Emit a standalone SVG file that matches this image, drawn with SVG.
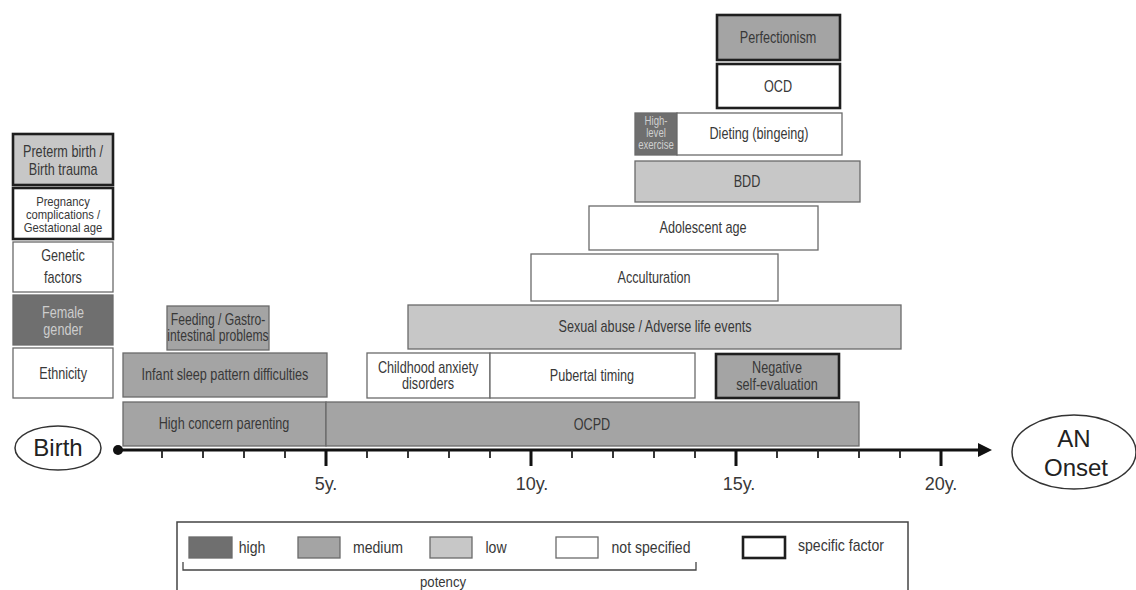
<svg xmlns="http://www.w3.org/2000/svg" width="1136" height="590" viewBox="0 0 1136 590">
  <style>
    text { font-family: "Liberation Sans", Arial, sans-serif; fill: #383838; text-anchor: middle; }
    .lbl { font-size: 16px; transform-box: fill-box; transform-origin: center; transform: scaleX(0.79); }
    .sm { font-size: 12.5px; transform-box: fill-box; transform-origin: center; transform: scaleX(0.9); }
    .xs { font-size: 12px; transform-box: fill-box; transform-origin: center; transform: scaleX(0.8); fill: #cfcfcf; }
    .inv { fill: #cdcdcd; }
    .yr { font-size: 18px; }
    .big { font-size: 24px; fill: #222; }
    .leg { font-size: 16px; transform-box: fill-box; transform-origin: center; transform: scaleX(0.88); }
    .high { fill: #6f6f6f; }
    .med { fill: #a4a4a4; }
    .low { fill: #c7c7c7; }
    .ns { fill: #ffffff; }
    .box { stroke: #6a6a6a; stroke-width: 1.3; }
    .spec { stroke: #1e1e1e; stroke-width: 2.6; }
  </style>
  <defs>
    <marker id="arrow" markerWidth="14" markerHeight="14" refX="2" refY="7" orient="auto" markerUnits="userSpaceOnUse">
      <path d="M0,0 L14,7 L0,14 Z" fill="#111"/>
    </marker>
  </defs>

  <rect width="1136" height="590" fill="#ffffff"/>

  <!-- factors present from birth -->
  <g id="preterm">
    <rect class="low spec" x="13" y="134" width="100" height="51"/>
    <text class="lbl" x="63" y="157">Preterm birth /</text>
    <text class="lbl" x="63" y="175">Birth trauma</text>
  </g>
  <g id="pregnancy">
    <rect class="ns spec" x="13" y="188" width="100" height="51"/>
    <text class="sm" x="63" y="206">Pregnancy</text>
    <text class="sm" x="63" y="219">complications /</text>
    <text class="sm" x="63" y="232">Gestational age</text>
  </g>
  <g id="genetic">
    <rect class="ns box" x="13" y="242" width="100" height="50"/>
    <text class="lbl" x="63" y="261">Genetic</text>
    <text class="lbl" x="63" y="283">factors</text>
  </g>
  <g id="female">
    <rect class="high box" x="13" y="295" width="100" height="50"/>
    <text class="lbl inv" x="63" y="318">Female</text>
    <text class="lbl inv" x="63" y="335">gender</text>
  </g>
  <g id="ethnicity">
    <rect class="ns box" x="13" y="348" width="100" height="50"/>
    <text class="lbl" x="63" y="379">Ethnicity</text>
  </g>

  <!-- childhood factors -->
  <g id="feeding">
    <rect class="med box" x="167" y="306" width="102" height="44"/>
    <text class="lbl" x="218" y="325" style="transform:scaleX(0.76)">Feeding / Gastro-</text>
    <text class="lbl" x="218" y="341" style="transform:scaleX(0.76)">intestinal problems</text>
  </g>
  <g id="infant-sleep">
    <rect class="med box" x="123" y="353" width="204" height="44"/>
    <text class="lbl" x="225" y="380">Infant sleep pattern difficulties</text>
  </g>
  <g id="parenting">
    <rect class="med box" x="123" y="402" width="203" height="44"/>
    <text class="lbl" x="224" y="429">High concern parenting</text>
  </g>
  <g id="ocpd">
    <rect class="med box" x="326" y="402" width="533" height="44"/>
    <text class="lbl" x="592" y="430">OCPD</text>
  </g>
  <g id="anxiety">
    <rect class="ns box" x="367" y="353" width="123" height="45"/>
    <text class="lbl" x="428" y="373">Childhood anxiety</text>
    <text class="lbl" x="428" y="389">disorders</text>
  </g>
  <g id="pubertal">
    <rect class="ns box" x="490" y="353" width="205" height="45"/>
    <text class="lbl" x="592" y="381">Pubertal timing</text>
  </g>
  <g id="self-evaluation">
    <rect class="med spec" x="716" y="354" width="123" height="44"/>
    <text class="lbl" x="777" y="373">Negative</text>
    <text class="lbl" x="777" y="390">self-evaluation</text>
  </g>
  <g id="abuse">
    <rect class="low box" x="408" y="305" width="493" height="44"/>
    <text class="lbl" x="655" y="332">Sexual abuse / Adverse life events</text>
  </g>

  <!-- adolescent factors -->
  <g id="acculturation">
    <rect class="ns box" x="531" y="254" width="247" height="47"/>
    <text class="lbl" x="654" y="283">Acculturation</text>
  </g>
  <g id="adolescent">
    <rect class="ns box" x="589" y="206" width="229" height="44"/>
    <text class="lbl" x="703" y="233">Adolescent age</text>
  </g>
  <g id="bdd">
    <rect class="low box" x="635" y="161" width="225" height="41"/>
    <text class="lbl" x="747" y="187">BDD</text>
  </g>
  <g id="exercise">
    <rect class="high box" x="635" y="113" width="42" height="42"/>
    <text class="xs" x="656" y="125">High-</text>
    <text class="xs" x="656" y="137">level</text>
    <text class="xs" x="656" y="149">exercise</text>
  </g>
  <g id="dieting">
    <rect class="ns box" x="677" y="113" width="165" height="42"/>
    <text class="lbl" x="759" y="139">Dieting (bingeing)</text>
  </g>
  <g id="ocd">
    <rect class="ns spec" x="717" y="64" width="123" height="44"/>
    <text class="lbl" x="778" y="92">OCD</text>
  </g>
  <g id="perfectionism">
    <rect class="med spec" x="717" y="15" width="123" height="45"/>
    <text class="lbl" x="778" y="43">Perfectionism</text>
  </g>

  <!-- timeline -->
  <g id="connectors">
    <line x1="118" y1="450" x2="980" y2="450" stroke="#111" stroke-width="3" marker-end="url(#arrow)"/>
    <circle cx="118" cy="450" r="5" fill="#111"/>
    <path d="M162 450V458 M203 450V458 M244 450V458 M285 450V458 M367 450V458 M408 450V458 M449 450V458 M490 450V458 M572 450V458 M613 450V458 M654 450V458 M695 450V458 M777 450V458 M818 450V458 M859 450V458 M900 450V458" stroke="#222" stroke-width="1.8"/>
    <path d="M326 450V466 M531 450V466 M736 450V466 M941 450V466" stroke="#111" stroke-width="3"/>
  </g>
  <g id="years">
    <text class="yr" x="326" y="490">5y.</text>
    <text class="yr" x="532" y="490">10y.</text>
    <text class="yr" x="739" y="490">15y.</text>
    <text class="yr" x="941" y="490">20y.</text>
  </g>
  <g id="birth">
    <ellipse cx="58" cy="448" rx="43" ry="22" fill="#fff" stroke="#333" stroke-width="1.5"/>
    <text class="big" x="58" y="456">Birth</text>
  </g>
  <g id="onset">
    <ellipse cx="1074" cy="452" rx="62" ry="37" fill="#fff" stroke="#333" stroke-width="1.5"/>
    <text class="big" x="1074" y="447">AN</text>
    <text class="big" x="1076" y="476">Onset</text>
  </g>

  <!-- legend -->
  <g id="legend">
    <rect x="177" y="522" width="731" height="100" fill="none" stroke="#444" stroke-width="1.5"/>
    <rect class="high box" x="189" y="537" width="43" height="21"/>
    <text class="leg" x="252" y="553">high</text>
    <rect class="med box" x="298" y="537" width="42" height="21"/>
    <text class="leg" x="378" y="553">medium</text>
    <rect class="low box" x="430" y="537" width="42" height="21"/>
    <text class="leg" x="496" y="553">low</text>
    <rect class="ns box" x="556" y="537" width="42" height="21"/>
    <text class="leg" x="651" y="553">not specified</text>
    <rect class="ns spec" x="743" y="537" width="42" height="21"/>
    <text class="leg" x="841" y="551">specific factor</text>
    <path d="M183 562V570H696V562" fill="none" stroke="#444" stroke-width="1.3"/>
    <text class="leg" x="443" y="587" style="font-size:15px">potency</text>
  </g>
</svg>
